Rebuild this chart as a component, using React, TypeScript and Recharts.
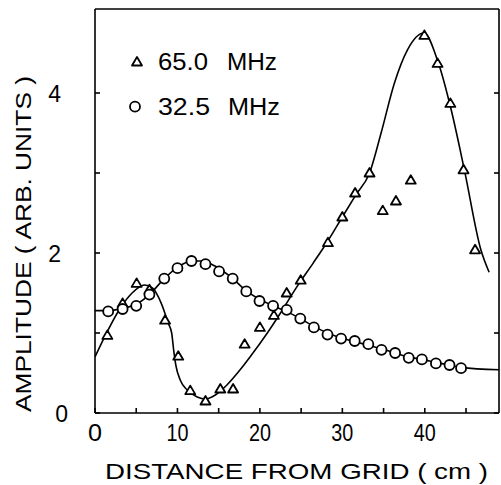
import React from "react";
import { ComposedChart, Line, Scatter, XAxis, YAxis, Legend } from "recharts";

// axis ticks
const xTicks = [0, 5, 10, 15, 20, 25, 30, 35, 40, 45];
const xTickLabels = [0, 10, 20, 30, 40];
const yTicks = [0, 1, 2, 3, 4];
const yTickLabels = [0, 2, 4];

// 65.0 MHz measured points
const dist65 = [1.5, 3.35, 5.05, 6.6, 8.5, 10.1, 11.55, 13.4, 15.2, 16.75, 18.15, 20.0, 21.7, 23.25, 24.95, 28.25, 30.0, 31.55, 33.3, 34.9, 36.5, 38.3, 39.95, 41.55, 43.1, 44.7, 46.1];
const amp65 = [0.97, 1.37, 1.62, 1.54, 1.16, 0.71, 0.28, 0.15, 0.3, 0.3, 0.86, 1.07, 1.22, 1.5, 1.66, 2.13, 2.45, 2.75, 3.0, 2.53, 2.65, 2.91, 4.72, 4.37, 3.87, 3.04, 2.04];

// 65.0 MHz fitted curve
const fitDist65 = [0, 1.5, 3, 4.5, 6, 7, 8, 8.9, 9.3, 9.55, 9.8, 10.35, 11.15, 12.4, 13.4, 14.6, 16, 17.6, 18.8, 20.9, 22.5, 24.5, 26.5, 28.3, 30, 31.6, 33.3, 34.7, 36.3, 37.9, 39.9, 41.6, 43.2, 44.8, 46.8, 47.8];
const fitAmp65 = [0.7, 1.02, 1.3, 1.5, 1.6, 1.56, 1.38, 1.12, 1.0, 0.78, 0.6, 0.41, 0.29, 0.2, 0.175, 0.225, 0.35, 0.54, 0.7, 1.0, 1.25, 1.58, 1.88, 2.16, 2.45, 2.72, 3.0, 3.5, 4.12, 4.54, 4.75, 4.39, 3.79, 3.04, 2.04, 1.76];

// 32.5 MHz measured points
const dist32 = [1.6, 3.35, 5.0, 6.6, 8.4, 10.0, 11.7, 13.4, 15.05, 16.7, 18.35, 19.95, 21.6, 23.25, 24.9, 26.55, 28.2, 29.85, 31.5, 33.15, 34.75, 36.4, 38.05, 39.65, 41.35, 43.0, 44.4];
const amp32 = [1.27, 1.3, 1.34, 1.48, 1.68, 1.81, 1.9, 1.86, 1.77, 1.68, 1.52, 1.4, 1.34, 1.29, 1.18, 1.07, 0.98, 0.93, 0.9, 0.86, 0.79, 0.75, 0.69, 0.67, 0.62, 0.6, 0.56];

// 32.5 MHz fitted curve
const fitDist32 = [0, 1.6, 3.4, 5, 6.6, 8.4, 10, 11.7, 13, 14.5, 16.7, 18.3, 20, 21.6, 23.2, 24.9, 26.6, 28.2, 29.8, 31.5, 33.1, 34.8, 36.4, 38, 39.7, 41.4, 43, 44.4, 49];
const fitAmp32 = [1.28, 1.28, 1.31, 1.36, 1.48, 1.68, 1.82, 1.9, 1.9, 1.84, 1.68, 1.53, 1.42, 1.34, 1.27, 1.18, 1.08, 1.0, 0.94, 0.89, 0.85, 0.8, 0.75, 0.7, 0.67, 0.63, 0.6, 0.57, 0.54];

const pts65 = dist65.map((x, i) => ({ x, y: amp65[i] }));
const fit65 = fitDist65.map((x, i) => ({ x, y: fitAmp65[i] }));
const pts32 = dist32.map((x, i) => ({ x, y: amp32[i] }));
const fit32 = fitDist32.map((x, i) => ({ x, y: fitAmp32[i] }));

const FONT = '"Liberation Sans", Arial, sans-serif';
const INK = "#000";

const BottomTick = (props: any) => {
  const { x, y, payload } = props;
  const v = payload.value;
  return (
    <g>
      <line x1={x} x2={x} y1={y} y2={y - 5} stroke={INK} strokeWidth={1.6} />
      {xTickLabels.includes(v) && (
        <text x={x} y={y + 28} textAnchor="middle" fontFamily={FONT} fontSize={23} fill={INK}
          textLength={v === 0 ? 14 : 22} lengthAdjust="spacingAndGlyphs">
          {v}
        </text>
      )}
    </g>
  );
};

const TopTick = (props: any) => {
  const { x, y } = props;
  return <line x1={x} x2={x} y1={y} y2={y + 5} stroke={INK} strokeWidth={1.6} />;
};

const LeftTick = (props: any) => {
  const { x, y, payload } = props;
  const v = payload.value;
  return (
    <g>
      <line x1={x} x2={x + 5} y1={y} y2={y} stroke={INK} strokeWidth={1.6} />
      {yTickLabels.includes(v) && (
        <text x={v === 0 ? 68 : 61} y={y + 8.5} textAnchor="end" fontFamily={FONT} fontSize={23} fill={INK}>
          {v}
        </text>
      )}
    </g>
  );
};

const RightTick = (props: any) => {
  const { x, y } = props;
  return <line x1={x} x2={x - 5} y1={y} y2={y} stroke={INK} strokeWidth={1.6} />;
};

const Triangle = (props: any) => {
  const { cx, cy } = props;
  return (
    <path d={`M${cx},${cy - 5}L${cx + 5},${cy + 3.5}L${cx - 5},${cy + 3.5}Z`}
      fill="#fff" stroke={INK} strokeWidth={1.8} strokeLinejoin="round" />
  );
};

const Ring = (props: any) => {
  const { cx, cy } = props;
  return <circle cx={cx} cy={cy} r={5} fill="#fff" stroke={INK} strokeWidth={1.8} />;
};

const LegendBox = () => (
  <svg width={180} height={90} style={{ overflow: "visible" }}>
    <path d="M12,17L17,25.5L7,25.5Z" fill="#fff" stroke={INK} strokeWidth={1.8} strokeLinejoin="round" />
    <text x={33} y={30} fontFamily={FONT} fontSize={23} fill={INK} textLength={50} lengthAdjust="spacingAndGlyphs">65.0</text>
    <text x={102} y={30} fontFamily={FONT} fontSize={23} fill={INK} textLength={50} lengthAdjust="spacingAndGlyphs">MHz</text>
    <circle cx={10} cy={66.7} r={5} fill="#fff" stroke={INK} strokeWidth={1.8} />
    <text x={33} y={75} fontFamily={FONT} fontSize={23} fill={INK} textLength={52} lengthAdjust="spacingAndGlyphs">32.5</text>
    <text x={103} y={75} fontFamily={FONT} fontSize={23} fill={INK} textLength={52} lengthAdjust="spacingAndGlyphs">MHz</text>
  </svg>
);

export default function App() {
  const frame = { stroke: INK, strokeWidth: 1.6 };
  return (
    <div style={{ position: "absolute", left: 0, top: 0, background: "#fff" }}>
      <ComposedChart width={501} height={485} margin={{ top: 8, right: 1, bottom: 71, left: 94 }}>
        <XAxis xAxisId="bottom" dataKey="x" type="number" domain={[0, 49]} ticks={xTicks} interval={0}
          height={1} tickSize={0} tickMargin={0} tickLine={false} axisLine={frame} tick={<BottomTick />}
          allowDataOverflow
          label={{
            content: () => (
              <text x={105} y={479} fontFamily={FONT} fontSize={22} fill={INK}
                textLength={383} lengthAdjust="spacingAndGlyphs">
                DISTANCE FROM GRID ( cm )
              </text>
            ),
          }} />
        <XAxis xAxisId="top" orientation="top" type="number" domain={[0, 49]} ticks={xTicks} interval={0}
          height={1} tickSize={0} tickMargin={0} tickLine={false} axisLine={frame} tick={<TopTick />}
          allowDataOverflow />
        <YAxis yAxisId="left" dataKey="y" type="number" domain={[0, 5.05]} ticks={yTicks} interval={0}
          width={1} tickSize={0} tickMargin={0} tickLine={false} axisLine={frame} tick={<LeftTick />}
          allowDataOverflow
          label={{
            content: () => (
              <text x={31} y={244} transform="rotate(-90 31 244)" textAnchor="middle" fontFamily={FONT}
                fontSize={22} fill={INK} textLength={336} lengthAdjust="spacingAndGlyphs">
                AMPLITUDE ( ARB. UNITS )
              </text>
            ),
          }} />
        <YAxis yAxisId="right" orientation="right" type="number" domain={[0, 5.05]} ticks={yTicks} interval={0}
          width={1} tickSize={0} tickMargin={0} tickLine={false} axisLine={frame} tick={<RightTick />}
          allowDataOverflow />
        <Line xAxisId="bottom" yAxisId="left" data={fit65} dataKey="y" type="monotone" stroke={INK}
          strokeWidth={1.6} dot={false} activeDot={false} isAnimationActive={false} legendType="none" />
        <Line xAxisId="bottom" yAxisId="left" data={fit32} dataKey="y" type="monotone" stroke={INK}
          strokeWidth={1.6} dot={false} activeDot={false} isAnimationActive={false} legendType="none" />
        <Scatter xAxisId="bottom" yAxisId="left" name="65.0 MHz" data={pts65} shape={<Triangle />}
          isAnimationActive={false} />
        <Scatter xAxisId="bottom" yAxisId="left" name="32.5 MHz" data={pts32} shape={<Ring />}
          isAnimationActive={false} />
        <Legend layout="horizontal" verticalAlign="middle" align="center" content={() => <LegendBox />}
          wrapperStyle={{ position: "absolute", left: 125, top: 40, width: 180, height: 90 }} />
      </ComposedChart>
    </div>
  );
}
